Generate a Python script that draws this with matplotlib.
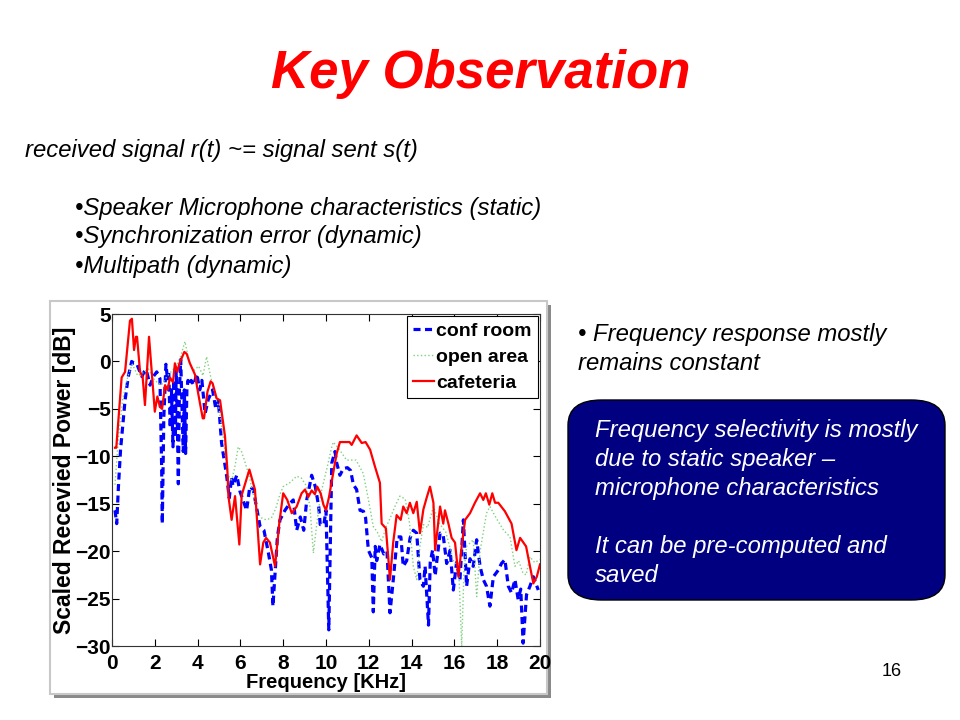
import matplotlib
matplotlib.use("Agg")
import matplotlib.pyplot as plt
from matplotlib.patches import Rectangle, FancyBboxPatch

# -------------------------
# data
# -------------------------

conf_f = [0.14, 0.22, 0.3, 0.4, 0.61, 0.76, 0.92, 1.03, 1.15, 1.27, 1.4, 1.5, 1.6, 1.78, 1.93,
          2.09, 2.24, 2.32, 2.35, 2.42, 2.52, 2.6, 2.65, 2.72, 2.78, 2.85, 2.9, 2.96, 3.0, 3.05,
          3.1, 3.15, 3.21, 3.33, 3.38, 3.44, 3.5, 3.55, 3.62, 3.7, 3.82, 3.96, 4.1, 4.2, 4.35,
          4.5, 4.7, 4.85, 4.97, 5.12, 5.36, 5.48, 5.59, 5.65, 5.83, 5.98, 6.29, 6.44, 6.6, 6.92,
          7.1, 7.31, 7.45, 7.52, 7.73, 7.85, 8.08, 8.3, 8.47, 8.63, 8.8, 8.96, 9.1, 9.33, 9.5,
          9.66, 9.73, 9.9, 10.0, 10.13, 10.27, 10.42, 10.5, 10.65, 10.81, 11.0, 11.15, 11.28,
          11.43, 11.59, 11.75, 11.85, 11.98, 12.14, 12.21, 12.3, 12.37, 12.52, 12.7, 12.85,
          12.99, 13.14, 13.33, 13.5, 13.61, 13.77, 13.93, 14.08, 14.24, 14.39, 14.55, 14.63,
          14.79, 14.87, 14.98, 15.1, 15.33, 15.48, 15.64, 15.8, 15.95, 16.1, 16.26, 16.42,
          16.57, 16.73, 16.88, 17.04, 17.2, 17.35, 17.5, 17.66, 17.82, 18.05, 18.2, 18.36,
          18.52, 18.67, 18.83, 18.98, 19.1, 19.21, 19.37, 19.53, 19.69, 19.92]
conf_db = [-15.7, -17.1, -13.2, -9.3, -4.1, -1.6, 0.0, -0.2, -0.2, -0.9, -1.6, -1.1, -0.9, -2.5, -1.6,
           -1.1, -1.8, -11.1, -17.1, -6.0, -0.3, -2.0, -1.0, -7.0, -3.0, -9.0, -2.0, -8.0, -1.0, -6.0,
           -12.9, -3.0, 0.2, -9.5, -3.0, -9.7, -3.0, -2.0, -2.5, -2.0, -2.5, -1.3, -3.0, -2.0, -5.5,
           -4.0, -3.0, -5.0, -4.1, -8.6, -12.1, -14.4, -12.2, -13.1, -12.0, -13.7, -15.7, -13.2, -13.5, -17.4,
           -17.8, -20.2, -22.0, -25.8, -18.5, -16.7, -15.7, -15.0, -14.6, -17.8, -16.4, -17.8, -14.6, -12.0, -13.2,
           -15.3, -17.2, -17.2, -15.7, -28.3, -10.7, -9.5, -10.7, -12.0, -11.3, -11.2, -11.5, -13.0,
           -13.5, -15.7, -15.8, -16.5, -19.9, -20.7, -26.4, -19.5, -21.0, -19.3, -20.3, -20.0,
           -26.5, -23.1, -18.5, -18.5, -21.6, -21.0, -18.6, -17.8, -18.1, -23.0, -23.7, -21.6,
           -27.8, -21.2, -19.9, -22.6, -18.1, -18.4, -21.3, -19.9, -24.1, -21.2, -23.0, -16.7,
           -23.7, -20.8, -21.6, -18.8, -21.6, -23.0, -23.7, -25.8, -22.7, -22.0, -21.3, -20.9,
           -23.7, -24.4, -23.0, -25.1, -24.0, -29.7, -24.6, -23.7, -22.7, -24.1]

open_f = [0.14, 0.3, 0.5, 0.75, 0.95, 1.2, 1.45, 1.7, 2.0, 2.3, 2.6, 3.0, 3.2, 3.41, 3.6, 3.8,
          4.05, 4.25, 4.42, 4.6, 4.8, 5.0, 5.2, 5.4, 5.6, 5.75, 5.9, 6.05, 6.2, 6.4, 6.6, 6.8,
          6.99, 7.2, 7.45, 7.65, 7.85, 8.0, 8.3, 8.63, 8.85, 9.05, 9.25, 9.41, 9.55, 9.75, 10.03,
          10.27, 10.34, 10.6, 10.96, 11.4, 11.74, 11.96, 12.21, 12.4, 12.6, 12.8, 13.0, 13.22,
          13.45, 13.7, 13.9, 14.08, 14.24, 14.39, 14.55, 14.75, 15.02, 15.3, 15.6, 15.95, 16.2,
          16.34, 16.45, 16.57, 16.88, 17.04, 17.2, 17.5, 17.66, 17.95, 18.3, 18.6, 18.83, 19.0,
          19.2, 19.35, 19.53, 19.75, 20.0]
open_db = [-13.0, -8.0, -4.0, -1.5, -0.3, -1.5, -1.2, -0.8, -2.0, -2.5, -1.5, -0.5, 0.5, 2.1, 0.0, -1.0,
           -0.5, -1.5, 0.5, -1.5, -3.5, -5.0, -8.0, -12.0, -12.5, -11.0, -9.0, -9.5, -10.5, -12.0, -14.0, -16.0,
           -16.5, -16.7, -16.5, -15.5, -14.0, -13.2, -12.8, -12.1, -12.3, -13.0, -15.3, -20.2, -17.5, -14.0, -11.4,
           -9.0, -8.5, -9.2, -10.4, -10.4, -11.8, -14.3, -17.4, -18.0, -19.0, -17.5, -16.5, -15.3,
           -14.2, -14.5, -17.0, -21.6, -23.0, -19.5, -17.2, -17.5, -15.3, -17.1, -18.0, -21.0, -21.6,
           -30.0, -22.0, -19.5, -18.8, -24.8, -20.0, -16.0, -15.3, -16.5, -17.8, -18.5, -21.6, -21.0,
           -22.3, -22.5, -20.6, -21.2, -20.9]

cafe_f = [0.14, 0.2, 0.45, 0.61, 0.84, 0.93, 1.03, 1.12, 1.17, 1.31, 1.43, 1.54, 1.73, 1.85, 2.0,
          2.12, 2.24, 2.34, 2.48, 2.6, 2.71, 2.85, 2.94, 3.05, 3.15, 3.38, 3.49, 3.64, 3.88, 4.03,
          4.24, 4.3, 4.46, 4.61, 4.7, 4.89, 5.05, 5.28, 5.39, 5.44, 5.59, 5.75, 5.95, 6.06, 6.42,
          6.68, 6.92, 7.07, 7.2, 7.38, 7.62, 7.82, 8.0, 8.19, 8.4, 8.63, 8.86, 9.02, 9.17, 9.33,
          9.48, 9.59, 9.75, 9.88, 10.0, 10.14, 10.31, 10.5, 10.65, 11.1, 11.2, 11.43, 11.67, 11.85,
          12.06, 12.29, 12.52, 12.6, 12.8, 12.99, 13.14, 13.3, 13.49, 13.61, 13.77, 13.92, 14.08,
          14.24, 14.39, 14.55, 14.7, 14.86, 15.02, 15.1, 15.26, 15.33, 15.48, 15.56, 15.72, 15.87,
          16.03, 16.19, 16.34, 16.5, 16.73, 16.96, 17.2, 17.35, 17.47, 17.63, 17.77, 17.9, 18.05,
          18.36, 18.67, 18.9, 19.07, 19.35, 19.53, 19.69, 19.85, 20.0]
cafe_db = [-9.1, -9.1, -1.7, -1.1, 4.3, 4.5, 1.2, 2.6, 2.6, -1.1, -1.6, -4.6, 2.6, -0.9, -5.3,
           -3.7, -4.8, -5.0, -2.5, -3.0, -1.7, -2.2, -0.2, -1.1, -0.2, 1.0, 0.8, -0.2, -1.4, -3.4,
           -6.0, -6.0, -3.2, -2.1, -2.3, -3.9, -4.1, -7.9, -11.4, -14.2, -16.7, -14.2, -19.3, -14.1, -11.4,
           -13.5, -21.4, -19.1, -18.6, -19.1, -21.6, -17.0, -13.9, -14.6, -16.0, -15.3, -13.9, -13.5, -14.3, -13.6,
           -14.0, -13.2, -13.9, -15.1, -15.7, -14.3, -12.1, -9.7, -8.5, -8.5, -8.8, -7.8, -8.6, -8.5,
           -9.3, -11.1, -12.8, -17.1, -17.6, -23.0, -19.1, -16.2, -16.7, -15.3, -16.0, -14.9, -16.0,
           -14.8, -18.1, -15.6, -14.4, -13.2, -14.9, -19.9, -16.7, -15.3, -17.1, -15.7, -17.1, -18.6,
           -19.1, -22.7, -19.5, -16.7, -16.0, -14.9, -13.9, -14.6, -13.9, -15.1, -13.9, -14.9, -14.9,
           -15.8, -17.1, -19.9, -18.6, -19.5, -21.6, -23.4, -22.7, -21.4]

series_labels = ["conf room", "open area", "cafeteria"]
x_ticks = [0, 2, 4, 6, 8, 10, 12, 14, 16, 18, 20]
y_ticks = [5, 0, -5, -10, -15, -20, -25, -30]

title_text = "Key Observation"
intro_text = "received signal r(t) ~= signal sent s(t)"
bullets = ["\u2022Speaker Microphone characteristics (static)",
           "\u2022Synchronization error (dynamic)",
           "\u2022Multipath (dynamic)"]
side_lines = ["\u2022 Frequency response mostly", "remains constant"]
box_lines = ["Frequency selectivity is mostly", "due to static speaker \u2013",
             "microphone characteristics", "", "It can be pre-computed and", "saved"]
page_no = "16"

# -------------------------
# slide
# -------------------------

W, H = 960, 720
fig = plt.figure(figsize=(9.6, 7.2), dpi=100)
fig.patch.set_facecolor("white")

def fx(px):
    return px / W

def fy(py):
    return 1 - py / H

font = "Liberation Sans"
body = 17.2

fig.text(fx(481), fy(74), title_text, color="#ff0000", fontsize=38, fontweight="bold",
         fontstyle="italic", family=font, ha="center", va="center")

fig.text(fx(25), fy(150), intro_text, fontsize=body, fontstyle="italic", family=font,
         ha="left", va="center")
for i, b in enumerate(bullets):
    fig.text(fx(75), fy(208 + 29 * i), b, fontsize=body, fontstyle="italic", family=font,
             ha="left", va="center")

for i, s in enumerate(side_lines):
    fig.text(fx(578), fy(334 + 29 * i), s, fontsize=body, fontstyle="italic", family=font,
             ha="left", va="center")

# rounded navy box
box = FancyBboxPatch((fx(568), fy(600)), fx(945) - fx(568), fy(400) - fy(600),
                     boxstyle="round,pad=0,rounding_size=0.035", transform=fig.transFigure,
                     facecolor="#000080", edgecolor="#000000", linewidth=1, zorder=-2)
fig.patches.append(box)
for i, s in enumerate(box_lines):
    fig.text(fx(595), fy(431 + 29 * i), s, color="white", fontsize=body, fontstyle="italic",
             family=font, ha="left", va="center")

fig.text(fx(892), fy(671), page_no, fontsize=13, family=font, ha="center", va="center")

# picture frame with shadow
fig.patches.append(Rectangle((fx(54), fy(698)), fx(551) - fx(54), fy(305) - fy(698),
                             transform=fig.transFigure, facecolor="#8a8a8a", edgecolor="none",
                             zorder=-3))
fig.patches.append(Rectangle((fx(50), fy(694)), fx(547) - fx(50), fy(301) - fy(694),
                             transform=fig.transFigure, facecolor="white", edgecolor="#c8c8c8",
                             linewidth=1.5, zorder=-2))

# -------------------------
# plot
# -------------------------

ax = fig.add_axes([fx(112), fy(646), fx(540) - fx(112), fy(314) - fy(646)])

ax.plot(conf_f, conf_db, color="#0000ff", linestyle=(0, (2.2, 1.4)), linewidth=2.3,
        label=series_labels[0])
ax.plot(open_f, open_db, color="#7fd07f", linestyle=":", linewidth=1.0, label=series_labels[1])
ax.plot(cafe_f, cafe_db, color="#ff0000", linestyle="-", linewidth=1.6, label=series_labels[2])

ax.set_xlim(0, 20)
ax.set_ylim(-30, 5)
ax.set_xticks(x_ticks)
ax.set_yticks(y_ticks)
ax.tick_params(direction="in", top=True, right=True, length=5, width=0.8, labelsize=15)
ax.tick_params(axis="x", pad=6)
ax.tick_params(axis="y", pad=1)
for lab in ax.get_xticklabels() + ax.get_yticklabels():
    lab.set_fontweight("bold")
    lab.set_family(font)
for sp in ax.spines.values():
    sp.set_linewidth(0.8)
    sp.set_color("#333333")

ax.set_xlabel("Frequency [KHz]", fontsize=14.5, fontweight="bold", family=font, labelpad=0)
ax.set_ylabel("Scaled Recevied Power [dB]", fontsize=16.5, fontweight="bold", family=font)
ax.yaxis.set_label_coords((76 - 112) / 428, 0.5)

leg = ax.legend(loc="upper right", fancybox=False, framealpha=1, edgecolor="black",
                borderaxespad=0.12, handlelength=1.1, handletextpad=0.1, labelspacing=0.44,
                borderpad=0.3, prop={"family": font, "weight": "bold", "size": 14})
leg.get_frame().set_linewidth(0.8)

plt.savefig("out.png", dpi=100)
